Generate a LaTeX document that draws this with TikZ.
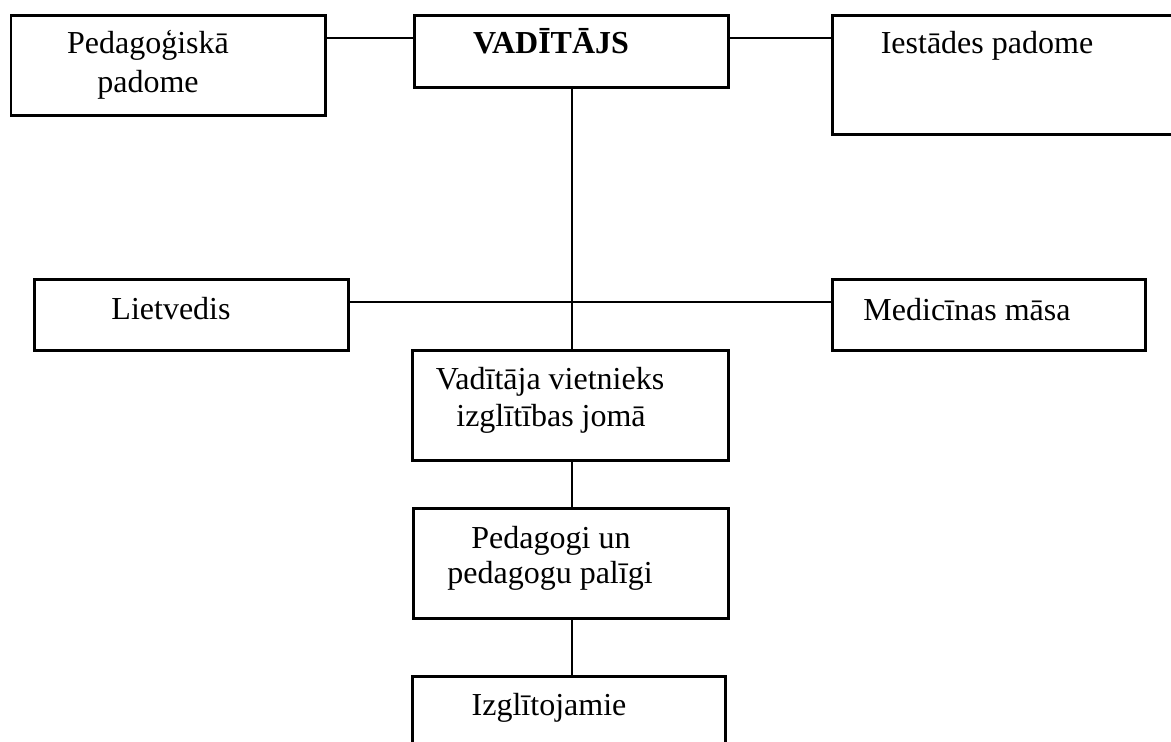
\documentclass[tikz,border=0pt]{standalone}
\usepackage{fontspec}
\setmainfont{Liberation Serif}
\begin{document}
\begin{tikzpicture}[x=1pt,y=-1pt,
  box/.style={draw=black, line width=2.7pt, rectangle, inner sep=0pt, anchor=north west},
  conn/.style={draw=black, line width=2pt},
  lbl/.style={inner sep=0pt, anchor=base, font=\fontsize{32}{38}\selectfont},
  blbl/.style={lbl, font=\fontsize{32}{38}\selectfont\bfseries}]
\clip (0,0) rectangle (1171,742);
\fill[white] (0,0) rectangle (1171,742);
% boxes
\node[box, minimum width=314.5pt, minimum height=100pt] (ped) at (9.5,14) {};
\node[box, minimum width=314pt, minimum height=72pt] (vad) at (413,14) {};
\node[box, minimum width=360pt, minimum height=119pt] (iest) at (831,14) {};
\node[box, minimum width=314pt, minimum height=71pt] (liet) at (33,278) {};
\node[box, minimum width=313pt, minimum height=71pt] (med) at (831,278) {};
\node[box, minimum width=316pt, minimum height=110pt] (viet) at (411,349) {};
\node[box, minimum width=315pt, minimum height=110pt] (peda) at (412,507) {};
\node[box, minimum width=313pt, minimum height=100pt] (izgl) at (411,675) {};
% helper coordinates
\coordinate (topline) at (0,38);
\coordinate (midline) at (0,302);
\coordinate (spine) at (572,0);
% connectors
\draw[conn] (ped.east |- topline) -- (vad.west |- topline);
\draw[conn] (vad.east |- topline) -- (iest.west |- topline);
\draw[conn] (spine |- vad.south) -- (spine |- viet.north);
\draw[conn] (liet.east |- midline) -- (med.west |- midline);
\draw[conn] (spine |- viet.south) -- (spine |- peda.north);
\draw[conn] (spine |- peda.south) -- (spine |- izgl.north);
% labels
\node[lbl] (tped1) at (148,53) {Pedagoģiskā};
\node[lbl] (tped2) at (148,92) {padome};
\node[blbl] (tvad) at (551,53) {VADĪTĀJS};
\node[lbl] (tiest) at (987,53) {Iestādes padome};
\node[lbl] (tliet) at (171,319) {Lietvedis};
\node[lbl] (tmed) at (967,320) {Medicīnas māsa};
\node[lbl] (tviet1) at (550,389) {Vadītāja vietnieks};
\node[lbl] (tviet2) at (551,426) {izglītības jomā};
\node[lbl] (tpeda1) at (551,548) {Pedagogi un};
\node[lbl] (tpeda2) at (550,583) {pedagogu palīgi};
\node[lbl] (tizgl) at (549,715) {Izglītojamie};
\end{tikzpicture}
\end{document}
